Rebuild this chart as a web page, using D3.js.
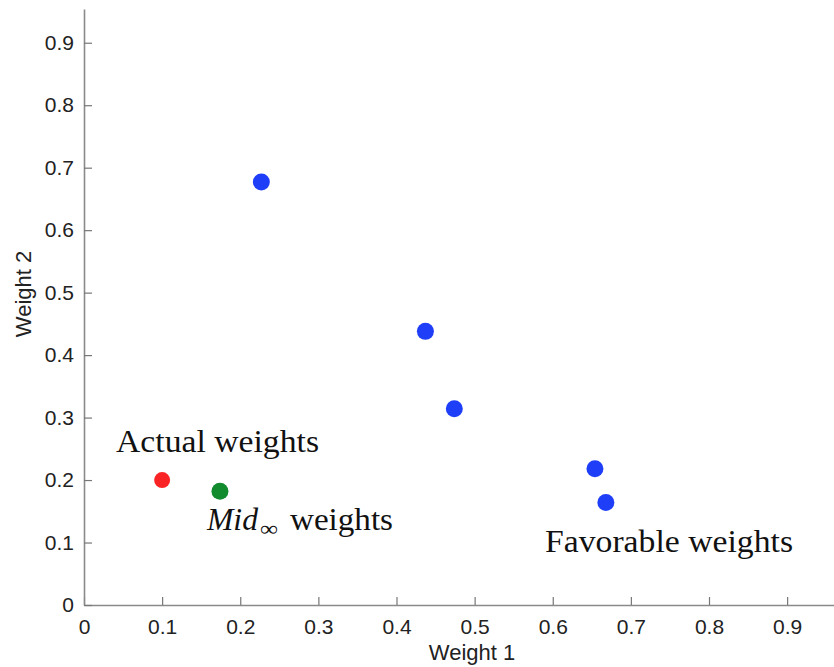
<!DOCTYPE html>
<html>
<head>
<meta charset="utf-8">
<script src="https://cdn.jsdelivr.net/npm/d3@7"></script>
<style>
  body { margin: 0; background: #fff; }
  svg { display: block; }
</style>
</head>
<body>
<div class="chart"></div>
<script>
var favorableW1 = [0.227, 0.437, 0.474, 0.654, 0.668];
var favorableW2 = [0.677, 0.438, 0.314, 0.218, 0.164];
var actual = [0.1, 0.2];
var mid = [0.174, 0.182];
var ticks = [0, 0.1, 0.2, 0.3, 0.4, 0.5, 0.6, 0.7, 0.8, 0.9];
var tickLabels = ['0', '0.1', '0.2', '0.3', '0.4', '0.5', '0.6', '0.7', '0.8', '0.9'];

var width = 834, height = 667;

var svg = d3.select('.chart')
    .append('svg')
    .attr('width', width)
    .attr('height', height);

var x = d3.scaleLinear().domain([0, 0.96]).range([84, 834]);
var y = d3.scaleLinear().domain([0, 0.954]).range([605, 9]);

// axes, ticks pointing inward
var xAxis = d3.axisBottom(x)
    .tickValues(ticks)
    .tickFormat(function(d, i) { return tickLabels[i]; })
    .tickSizeInner(-8)
    .tickSizeOuter(0)
    .tickPadding(14);

var yAxis = d3.axisLeft(y)
    .tickValues(ticks)
    .tickFormat(function(d, i) { return tickLabels[i]; })
    .tickSizeInner(-8)
    .tickSizeOuter(0)
    .tickPadding(10);

var gx = svg.append('g')
    .attr('transform', 'translate(0,' + y(0) + ')')
    .call(xAxis);

var gy = svg.append('g')
    .attr('transform', 'translate(' + x(0) + ',0)')
    .call(yAxis);

[gx, gy].forEach(function(g) {
    g.select('.domain').attr('stroke', '#8a8a8a').attr('stroke-width', 1.6);
    g.selectAll('.tick line').attr('stroke', '#777').attr('stroke-width', 1.2);
    g.selectAll('.tick text')
        .attr('fill', '#222')
        .style('font-family', 'Liberation Sans, Arial, sans-serif')
        .style('font-size', '21px');
});
gx.selectAll('.tick text').attr('dy', '0.71em');

svg.append('text')
    .attr('x', 472)
    .attr('y', 660)
    .attr('text-anchor', 'middle')
    .attr('fill', '#222')
    .style('font-family', 'Liberation Sans, Arial, sans-serif')
    .style('font-size', '22px')
    .text('Weight 1');

svg.append('text')
    .attr('transform', 'translate(31,294) rotate(-90)')
    .attr('text-anchor', 'middle')
    .attr('fill', '#222')
    .style('font-family', 'Liberation Sans, Arial, sans-serif')
    .style('font-size', '22px')
    .text('Weight 2');

// points
var favorable = favorableW1.map(function(d, i) { return [d, favorableW2[i]]; });

svg.selectAll('.fav')
    .data(favorable)
    .enter()
    .append('circle')
    .attr('class', 'fav')
    .attr('cx', function(d) { return x(d[0]); })
    .attr('cy', function(d) { return y(d[1]); })
    .attr('r', 8.5)
    .attr('fill', '#1e3ef8');

svg.append('circle')
    .attr('cx', x(actual[0]))
    .attr('cy', y(actual[1]))
    .attr('r', 8)
    .attr('fill', '#fa2424');

svg.append('circle')
    .attr('cx', x(mid[0]))
    .attr('cy', y(mid[1]))
    .attr('r', 8.5)
    .attr('fill', '#128a2e');

// annotations
var serif = 'Liberation Serif, Times New Roman, serif';

svg.append('text')
    .attr('x', 116)
    .attr('y', 452)
    .attr('textLength', 203)
    .attr('lengthAdjust', 'spacingAndGlyphs')
    .style('font-family', serif)
    .style('font-size', '32px')
    .attr('fill', '#111')
    .text('Actual weights');

var midLabel = svg.append('text')
    .attr('y', 530)
    .style('font-family', serif)
    .style('font-size', '32px')
    .attr('fill', '#111');
midLabel.append('tspan')
    .attr('x', 207)
    .attr('textLength', 51)
    .attr('lengthAdjust', 'spacingAndGlyphs')
    .style('font-style', 'italic')
    .text('Mid');
midLabel.append('tspan')
    .attr('x', 260)
    .attr('dy', 6)
    .attr('textLength', 18)
    .attr('lengthAdjust', 'spacingAndGlyphs')
    .style('font-size', '22px')
    .text('\u221e');
midLabel.append('tspan')
    .attr('x', 290)
    .attr('dy', -6)
    .attr('textLength', 103)
    .attr('lengthAdjust', 'spacingAndGlyphs')
    .text('weights');

svg.append('text')
    .attr('x', 545)
    .attr('y', 552)
    .attr('textLength', 248)
    .attr('lengthAdjust', 'spacingAndGlyphs')
    .style('font-family', serif)
    .style('font-size', '32px')
    .attr('fill', '#111')
    .text('Favorable weights');
</script>
</body>
</html>
